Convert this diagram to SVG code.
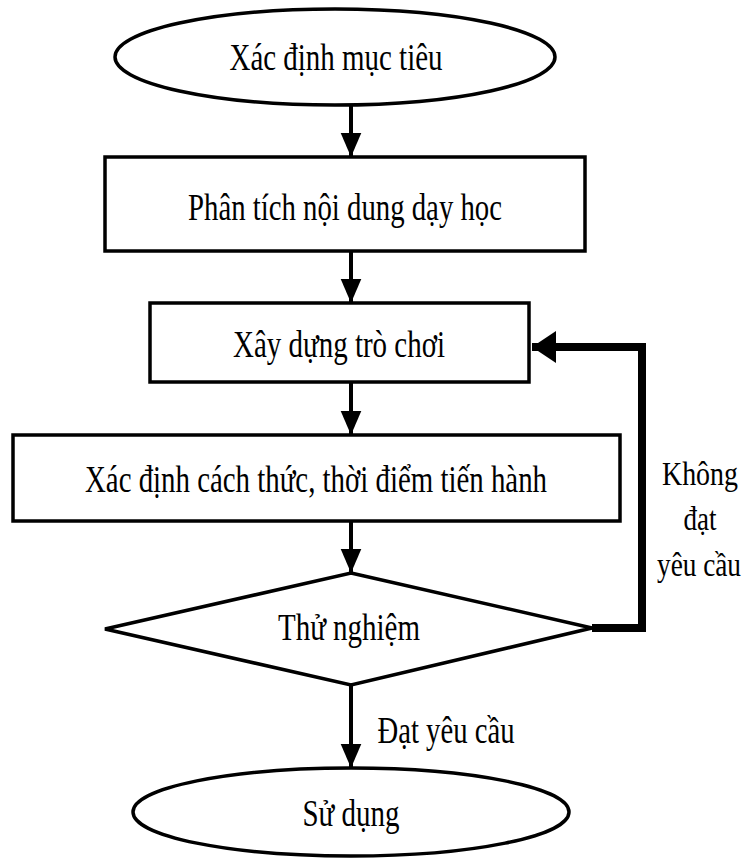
<svg xmlns="http://www.w3.org/2000/svg" width="750" height="859" viewBox="0 0 750 859">
<style>
.shape{fill:#fff;stroke:#000;stroke-width:3.5}
.t{font-family:"Liberation Serif","Times New Roman",serif;font-size:38px;fill:#000;text-anchor:middle}
.s{font-size:33px}
.ln{fill:none;stroke:#000;stroke-width:4}
.fb{fill:none;stroke:#000;stroke-width:8;stroke-linejoin:miter}
</style>
<defs>
<marker id="ah" markerUnits="userSpaceOnUse" markerWidth="24" markerHeight="28" refX="28" refY="12" viewBox="0 0 28 24" orient="auto">
<path d="M0,0 L28,12 L0,24 Z" fill="#000"/>
</marker>
<marker id="ahb" markerUnits="userSpaceOnUse" markerWidth="24" markerHeight="32" refX="24" refY="16" viewBox="0 0 24 32" orient="auto">
<path d="M0,0 L24,16 L0,32 Z" fill="#000"/>
</marker>
</defs>
<rect width="750" height="859" fill="#fff"/>
<g id="connectors">
<line class="ln" x1="351" y1="105" x2="351" y2="157" marker-end="url(#ah)"/>
<line class="ln" x1="351" y1="251" x2="351" y2="303" marker-end="url(#ah)"/>
<line class="ln" x1="351" y1="382" x2="351" y2="435" marker-end="url(#ah)"/>
<line class="ln" x1="351" y1="521" x2="351" y2="573" marker-end="url(#ah)"/>
<line class="ln" x1="351" y1="685" x2="351" y2="768" marker-end="url(#ah)"/>
<path class="fb" d="M592,628 H642 V347 H532" marker-end="url(#ahb)"/>
<text class="t s" x="700" y="485" textLength="76" lengthAdjust="spacingAndGlyphs">Không</text>
<text class="t s" x="700" y="530" textLength="33" lengthAdjust="spacingAndGlyphs">đạt</text>
<text class="t s" x="699" y="576" textLength="84" lengthAdjust="spacingAndGlyphs">yêu cầu</text>
<text class="t" x="446" y="743" textLength="137" lengthAdjust="spacingAndGlyphs">Đạt yêu cầu</text>
</g>
<g id="n1">
<ellipse class="shape" cx="335" cy="57" rx="220" ry="48"/>
<text class="t" x="336" y="70" textLength="213" lengthAdjust="spacingAndGlyphs">Xác định mục tiêu</text>
</g>
<g id="n2">
<rect class="shape" x="105" y="157" width="480" height="94"/>
<text class="t" x="345" y="220" textLength="314" lengthAdjust="spacingAndGlyphs">Phân tích nội dung dạy học</text>
</g>
<g id="n3">
<rect class="shape" x="150" y="303" width="379" height="79"/>
<text class="t" x="339" y="357" textLength="212" lengthAdjust="spacingAndGlyphs">Xây dựng trò chơi</text>
</g>
<g id="n4">
<rect class="shape" x="13" y="435" width="607" height="86"/>
<text class="t" x="316" y="492" textLength="462" lengthAdjust="spacingAndGlyphs">Xác định cách thức, thời điểm tiến hành</text>
</g>
<g id="n5">
<polygon class="shape" points="351,573 592,628 351,685 105,629"/>
<text class="t" x="349" y="640" textLength="142" lengthAdjust="spacingAndGlyphs">Thử nghiệm</text>
</g>
<g id="n6">
<ellipse class="shape" cx="351" cy="812" rx="218" ry="44"/>
<text class="t" x="351" y="826" textLength="97" lengthAdjust="spacingAndGlyphs">Sử dụng</text>
</g>
</svg>
